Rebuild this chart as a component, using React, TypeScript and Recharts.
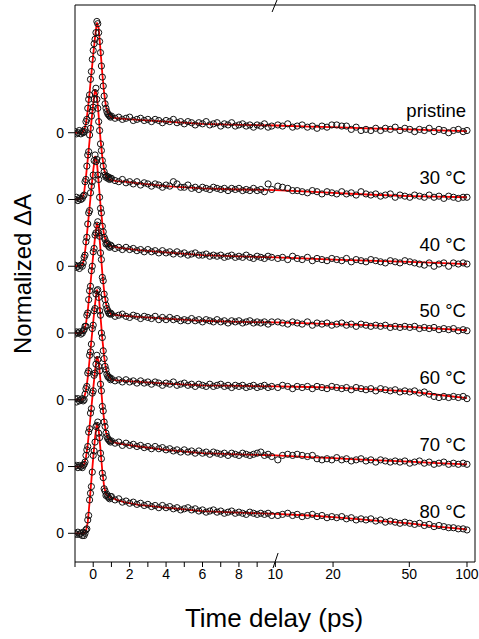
import React from 'react';
import { ComposedChart, Line, Scatter, XAxis, YAxis, ReferenceLine, ReferenceDot } from 'recharts';

// time delays (ps) of measured points
const DATA_T = [
  -1.0, -0.92, -0.84, -0.76, -0.68, -0.6, -0.55,
  -0.5, -0.45, -0.4, -0.35, -0.3, -0.25, -0.2, -0.15, -0.1, -0.05,
  0, 0.05, 0.1, 0.15, 0.2, 0.25, 0.3, 0.35, 0.4, 0.45,
  0.5, 0.55, 0.6, 0.65, 0.7, 0.75, 0.8, 0.85, 0.9, 0.95,
  1.0, 1.2, 1.4, 1.6, 1.8, 2.0, 2.2, 2.4, 2.6, 2.8, 3.0, 3.2, 3.4, 3.6, 3.8,
  4.0, 4.2, 4.4, 4.6, 4.8, 5.0, 5.2, 5.4, 5.6, 5.8, 6.0, 6.2, 6.4, 6.6, 6.8,
  7.0, 7.2, 7.4, 7.6, 7.8, 8.0, 8.2, 8.4, 8.6, 8.8, 9.0, 9.2, 9.4, 9.6, 9.8,
  10.3, 10.9, 11.6, 12.3, 13.0, 13.8, 14.7, 15.6, 16.5, 17.5,
  18.6, 19.7, 20.9, 22.2, 23.5, 24.9, 26.4, 28.0, 29.7, 31.5,
  33.4, 35.4, 37.5, 39.8, 42.2, 44.7, 47.4, 50.3, 53.3, 56.5,
  59.9, 63.5, 67.3, 71.4, 75.7, 80.2, 85.0, 90.1, 95.5, 100,
];

// time delays (ps) of fit curve nodes
const FIT_T = [-1, -0.6, -0.5, -0.4, -0.3, -0.2, -0.1, 0, 0.1, 0.2, 0.3, 0.4, 0.5, 0.6, 0.7, 0.8, 1.0, 1.3, 1.7, 2.5, 4, 6, 8, 10, 15, 20, 30, 50, 70, 100];

const DATA_PRISTINE = [
  0.01, -0.01, 0.0, 0.02, -0.01, 0.01, 0.0,
  0.01, 0.03, 0.1, 0.12, 0.22, 0.3, 0.34, 0.48, 0.55, 0.66,
  0.74, 0.8, 0.84, 0.9, 1.0, 0.98, 0.9, 0.82, 0.72, 0.6,
  0.5, 0.42, 0.33, 0.26, 0.22, 0.19, 0.17, 0.16, 0.15, 0.14,
  0.15, 0.13, 0.14, 0.12, 0.13, 0.14, 0.11, 0.12, 0.13, 0.11, 0.12, 0.1, 0.12, 0.11, 0.09,
  0.11, 0.1, 0.12, 0.09, 0.1, 0.08, 0.1, 0.09, 0.07, 0.09, 0.08, 0.1, 0.07, 0.08, 0.09,
  0.06, 0.08, 0.07, 0.09, 0.06, 0.07, 0.08, 0.06, 0.07, 0.05, 0.07, 0.06, 0.08, 0.05, 0.06,
  0.07, 0.06, 0.08, 0.05, 0.06, 0.07, 0.05, 0.06, 0.04, 0.06,
  0.05, 0.07, 0.07, 0.06, 0.06, 0.03, 0.05, 0.02, 0.03, 0.02,
  0.04, 0.02, 0.04, 0.03, 0.05, 0.02, 0.04, 0.03, 0.01, 0.03,
  0.02, 0.04, 0.01, 0.03, 0.02, 0.0, 0.02, 0.03, 0.01, 0.02,
];
const DATA_30 = [
  0.0, 0.02, -0.01, 0.01, 0.0, 0.01, 0.03,
  0.04, 0.16, 0.18, 0.3, 0.4, 0.43, 0.58, 0.64, 0.75, 0.8,
  0.83, 0.9, 0.96, 1.0, 0.9, 0.82, 0.7, 0.62, 0.5, 0.44,
  0.35, 0.3, 0.25, 0.22, 0.2, 0.21, 0.19, 0.2, 0.18, 0.19,
  0.19, 0.17, 0.16, 0.18, 0.15, 0.16, 0.14, 0.16, 0.13, 0.15, 0.14, 0.12, 0.14, 0.13, 0.11,
  0.13, 0.12, 0.16, 0.14, 0.11, 0.11, 0.13, 0.1, 0.11, 0.09, 0.11, 0.1, 0.09, 0.11, 0.1,
  0.09, 0.1, 0.08, 0.1, 0.09, 0.1, 0.08, 0.09, 0.08, 0.1, 0.08, 0.09, 0.07, 0.14, 0.09,
  0.12, 0.11, 0.1, 0.08, 0.08, 0.07, 0.06, 0.08, 0.07, 0.05,
  0.07, 0.06, 0.05, 0.07, 0.05, 0.06, 0.04, 0.07, 0.05, 0.04,
  0.05, 0.03, 0.04, 0.05, 0.02, 0.04, 0.03, 0.02, 0.04, 0.03,
  0.02, 0.04, 0.02, 0.03, 0.01, 0.03, 0.02, 0.01, 0.02, 0.02,
];
const DATA_40 = [
  0.01, -0.01, 0.0, -0.02, 0.01, 0.0, 0.03,
  0.08, 0.1, 0.22, 0.26, 0.38, 0.48, 0.5, 0.66, 0.72, 0.76,
  0.82, 0.95, 1.0, 0.94, 0.96, 0.82, 0.78, 0.62, 0.52, 0.48,
  0.36, 0.31, 0.26, 0.24, 0.2, 0.21, 0.2, 0.18, 0.17, 0.19,
  0.18, 0.16, 0.17, 0.15, 0.17, 0.15, 0.16, 0.14, 0.15, 0.13, 0.15, 0.13, 0.14, 0.12, 0.14,
  0.12, 0.13, 0.11, 0.13, 0.11, 0.12, 0.1, 0.11, 0.12, 0.1, 0.1, 0.11, 0.09, 0.1, 0.09,
  0.1, 0.08, 0.09, 0.1, 0.08, 0.09, 0.08, 0.1, 0.08, 0.07, 0.09, 0.08, 0.07, 0.09, 0.08,
  0.07, 0.08, 0.06, 0.09, 0.07, 0.06, 0.08, 0.05, 0.07, 0.06,
  0.05, 0.07, 0.06, 0.05, 0.07, 0.04, 0.06, 0.05, 0.04, 0.06,
  0.05, 0.04, 0.03, 0.05, 0.04, 0.03, 0.05, 0.04, 0.03, 0.02,
  0.01, 0.03, 0.0, 0.02, 0.03, 0.0, 0.03, 0.02, 0.03, 0.02,
];
const DATA_50 = [
  -0.01, 0.01, 0.0, 0.01, -0.01, 0.0, 0.02,
  0.03, 0.06, 0.06, 0.16, 0.18, 0.3, 0.38, 0.42, 0.56, 0.6,
  0.73, 0.76, 0.88, 0.9, 0.97, 1.0, 0.9, 0.87, 0.72, 0.66,
  0.5, 0.47, 0.35, 0.3, 0.25, 0.22, 0.2, 0.18, 0.17, 0.18,
  0.17, 0.15, 0.16, 0.17, 0.15, 0.14, 0.16, 0.15, 0.13, 0.15, 0.14, 0.13, 0.15, 0.12, 0.14,
  0.12, 0.14, 0.12, 0.13, 0.11, 0.12, 0.11, 0.13, 0.11, 0.12, 0.1, 0.12, 0.11, 0.1, 0.12,
  0.1, 0.11, 0.09, 0.11, 0.1, 0.11, 0.09, 0.1, 0.11, 0.09, 0.1, 0.09, 0.1, 0.08, 0.1,
  0.1, 0.09, 0.08, 0.1, 0.09, 0.08, 0.1, 0.07, 0.09, 0.08,
  0.09, 0.07, 0.08, 0.09, 0.07, 0.08, 0.06, 0.08, 0.07, 0.06,
  0.07, 0.06, 0.07, 0.05, 0.06, 0.05, 0.06, 0.05, 0.06, 0.04,
  0.05, 0.04, 0.05, 0.03, 0.04, 0.03, 0.04, 0.02, 0.03, 0.02,
];
const DATA_60 = [
  0.01, -0.02, 0.01, -0.01, 0.0, 0.01, -0.01,
  0.0, 0.05, 0.1, 0.12, 0.24, 0.26, 0.4, 0.43, 0.5, 0.64,
  0.67, 0.8, 0.82, 0.95, 0.98, 0.99, 0.92, 0.8, 0.76, 0.6,
  0.56, 0.44, 0.37, 0.3, 0.27, 0.23, 0.21, 0.2, 0.2, 0.18,
  0.19, 0.17, 0.18, 0.16, 0.18, 0.16, 0.17, 0.15, 0.17, 0.15, 0.16, 0.14, 0.16, 0.15, 0.13,
  0.15, 0.14, 0.16, 0.13, 0.14, 0.15, 0.13, 0.14, 0.12, 0.14, 0.13, 0.12, 0.14, 0.12, 0.13,
  0.14, 0.12, 0.13, 0.11, 0.13, 0.12, 0.13, 0.11, 0.12, 0.13, 0.11, 0.12, 0.13, 0.11, 0.12,
  0.11, 0.13, 0.12, 0.1, 0.12, 0.11, 0.12, 0.1, 0.12, 0.11,
  0.1, 0.12, 0.11, 0.1, 0.11, 0.09, 0.11, 0.1, 0.09, 0.1,
  0.08, 0.1, 0.09, 0.08, 0.09, 0.07, 0.08, 0.07, 0.08, 0.06,
  0.07, 0.05, 0.03, 0.02, 0.03, 0.02, 0.03, 0.02, 0.03, 0.01,
];
const DATA_70 = [
  0.0, 0.01, -0.01, 0.01, 0.0, -0.01, 0.01,
  0.02, 0.04, 0.1, 0.15, 0.18, 0.31, 0.34, 0.48, 0.52, 0.66,
  0.68, 0.82, 0.84, 0.92, 1.0, 0.96, 0.9, 0.86, 0.74, 0.68,
  0.54, 0.5, 0.4, 0.36, 0.3, 0.27, 0.25, 0.24, 0.23, 0.22,
  0.23, 0.21, 0.22, 0.19, 0.21, 0.19, 0.2, 0.18, 0.19, 0.17, 0.18, 0.16, 0.18, 0.16, 0.17,
  0.15, 0.16, 0.14, 0.15, 0.13, 0.15, 0.13, 0.14, 0.12, 0.14, 0.12, 0.13, 0.11, 0.13, 0.12,
  0.11, 0.12, 0.1, 0.12, 0.11, 0.1, 0.12, 0.11, 0.1, 0.11, 0.12, 0.13, 0.1, 0.11, 0.09,
  0.06, 0.1, 0.11, 0.1, 0.11, 0.1, 0.09, 0.1, 0.07, 0.06,
  0.07, 0.06, 0.08, 0.06, 0.07, 0.05, 0.06, 0.07, 0.05, 0.06,
  0.04, 0.06, 0.05, 0.04, 0.05, 0.04, 0.05, 0.03, 0.04, 0.05,
  0.03, 0.04, 0.02, 0.03, 0.04, 0.02, 0.03, 0.02, 0.03, 0.02,
];
const DATA_80 = [
  0.0, -0.01, 0.01, -0.01, 0.0, -0.02, 0.01,
  -0.02, 0.0, 0.03, 0.04, 0.12, 0.16, 0.3, 0.36, 0.42, 0.55,
  0.7, 0.74, 0.82, 0.96, 0.97, 1.0, 0.9, 0.86, 0.72, 0.67,
  0.54, 0.5, 0.4, 0.38, 0.34, 0.35, 0.33, 0.32, 0.31, 0.33,
  0.33, 0.3, 0.31, 0.28, 0.29, 0.27, 0.28, 0.26, 0.27, 0.25, 0.26, 0.24, 0.25, 0.23, 0.25,
  0.23, 0.24, 0.22, 0.23, 0.21, 0.22, 0.23, 0.21, 0.22, 0.2, 0.21, 0.19, 0.2, 0.21, 0.19,
  0.2, 0.18, 0.19, 0.2, 0.18, 0.19, 0.18, 0.17, 0.19, 0.18, 0.17, 0.18, 0.17, 0.18, 0.16,
  0.16, 0.17, 0.18, 0.16, 0.17, 0.15, 0.16, 0.17, 0.15, 0.16,
  0.14, 0.15, 0.14, 0.15, 0.13, 0.14, 0.12, 0.13, 0.12, 0.13,
  0.11, 0.12, 0.1, 0.11, 0.1, 0.09, 0.1, 0.09, 0.08, 0.09,
  0.07, 0.08, 0.06, 0.07, 0.06, 0.05, 0.05, 0.04, 0.04, 0.03,
];

const FIT_PRISTINE = [0, 0, 0.02, 0.08, 0.2, 0.36, 0.53, 0.7, 0.86, 0.99, 0.94, 0.74, 0.53, 0.355, 0.24, 0.18, 0.14, 0.13, 0.125, 0.115, 0.1, 0.08, 0.07, 0.065, 0.055, 0.05, 0.04, 0.03, 0.022, 0.015];
const FIT_30 = [0, 0.01, 0.06, 0.2, 0.36, 0.53, 0.7, 0.86, 0.99, 0.94, 0.75, 0.54, 0.38, 0.27, 0.21, 0.19, 0.175, 0.165, 0.16, 0.145, 0.12, 0.1, 0.09, 0.085, 0.07, 0.06, 0.045, 0.03, 0.025, 0.02];
const FIT_40 = [0, 0.01, 0.06, 0.2, 0.36, 0.53, 0.7, 0.86, 0.99, 0.94, 0.75, 0.55, 0.385, 0.28, 0.22, 0.195, 0.18, 0.17, 0.16, 0.145, 0.125, 0.1, 0.088, 0.08, 0.068, 0.06, 0.05, 0.04, 0.03, 0.02];
const FIT_50 = [0, 0, 0.02, 0.08, 0.2, 0.36, 0.53, 0.7, 0.86, 0.99, 0.94, 0.75, 0.54, 0.375, 0.265, 0.21, 0.165, 0.16, 0.155, 0.145, 0.13, 0.11, 0.1, 0.095, 0.087, 0.08, 0.07, 0.055, 0.04, 0.025];
const FIT_60 = [0, 0, 0.02, 0.08, 0.2, 0.36, 0.53, 0.7, 0.86, 0.99, 0.94, 0.75, 0.55, 0.385, 0.28, 0.22, 0.18, 0.175, 0.17, 0.16, 0.145, 0.13, 0.125, 0.12, 0.115, 0.11, 0.095, 0.075, 0.045, 0.015];
const FIT_70 = [0, 0, 0.02, 0.08, 0.2, 0.36, 0.53, 0.7, 0.86, 0.99, 0.945, 0.77, 0.57, 0.415, 0.31, 0.26, 0.225, 0.21, 0.2, 0.18, 0.15, 0.12, 0.11, 0.1, 0.085, 0.075, 0.06, 0.045, 0.03, 0.02];
const FIT_80 = [0, 0, 0, 0.02, 0.1, 0.28, 0.48, 0.68, 0.86, 0.99, 0.93, 0.75, 0.56, 0.42, 0.35, 0.335, 0.32, 0.3, 0.28, 0.255, 0.23, 0.2, 0.185, 0.175, 0.16, 0.145, 0.12, 0.09, 0.06, 0.035];

const LABELS = ['pristine', '30 °C', '40 °C', '50 °C', '60 °C', '70 °C', '80 °C'];
const OFFSETS = [3.6, 3.0, 2.4, 1.8, 1.2, 0.6, 0];
const DATA_SETS = [DATA_PRISTINE, DATA_30, DATA_40, DATA_50, DATA_60, DATA_70, DATA_80];
const FIT_SETS = [FIT_PRISTINE, FIT_30, FIT_40, FIT_50, FIT_60, FIT_70, FIT_80];

const X_TICK_PS = [-1, 0, 1, 2, 3, 4, 5, 6, 7, 8, 9, 10, 20, 50, 100];
const X_TICK_TEXT = ['', '0', '', '2', '', '4', '', '6', '', '8', '', '10', '20', '50', '100'];
const Y_TICK_TEXT = '0';

// broken axis: linear up to 10 ps, logarithmic beyond
const BREAK_PS = 10;
const LOG_DECADE = 10.52;
const toAxis = (t: number) => (t <= BREAK_PS ? t : BREAK_PS + LOG_DECADE * Math.log10(t / BREAK_PS));

const X_DOMAIN: [number, number] = [-1, 20.96];
const Y_DOMAIN: [number, number] = [-0.258, 4.748];

const FONT = '"Liberation Sans", Arial, Helvetica, sans-serif';
const RED = '#ff0000';

const series = LABELS.map((label, k) => ({
  label,
  offset: OFFSETS[k],
  points: DATA_T.map((t, i) => ({ u: toAxis(t), y: DATA_SETS[k][i] + OFFSETS[k] })).filter((p) => Number.isFinite(p.y)),
  fit: FIT_T.map((t, i) => ({ u: toAxis(t), y: FIT_SETS[k][i] + OFFSETS[k] })).filter((p) => Number.isFinite(p.y)),
}));

const OpenCircle = (p: any) => (
  <circle cx={p.cx} cy={p.cy} r={3.1} fill="none" stroke="#111111" strokeWidth={1} />
);

export default function App() {
  const yTicks = [...OFFSETS].sort((a, b) => a - b);
  const xTicks = X_TICK_PS.map(toAxis);
  return (
    <div style={{ position: 'absolute', left: 0, top: 0, width: 479, height: 639, background: '#fff' }}>
      <ComposedChart width={479} height={639} margin={{ top: 5, right: 4, bottom: 0, left: 0 }}>
        <XAxis
          dataKey="u"
          type="number"
          domain={X_DOMAIN}
          allowDataOverflow
          ticks={xTicks}
          interval={0}
          tickFormatter={(_v: number, i: number) => X_TICK_TEXT[i]}
          tickSize={5}
          tickMargin={2}
          height={77}
          axisLine={{ stroke: '#000', strokeWidth: 1 }}
          tickLine={{ stroke: '#000', strokeWidth: 1 }}
          tick={{ fill: '#000', fontSize: 14, fontFamily: FONT }}
          label={() => (
            <text x={274} y={627} textAnchor="middle" fontSize={26} fontFamily={FONT} fill="#000">
              Time delay (ps)
            </text>
          )}
        />
        <YAxis
          dataKey="y"
          type="number"
          domain={Y_DOMAIN}
          allowDataOverflow
          ticks={yTicks}
          interval={0}
          tickFormatter={() => Y_TICK_TEXT}
          tickSize={7}
          tickMargin={4}
          width={75}
          axisLine={{ stroke: '#000', strokeWidth: 1 }}
          tickLine={{ stroke: '#000', strokeWidth: 1 }}
          tick={{ fill: '#000', fontSize: 14, fontFamily: FONT }}
          label={() => (
            <text
              x={31}
              y={274}
              transform="rotate(-90 31 274)"
              textAnchor="middle"
              fontSize={24}
              fontFamily={FONT}
              fill="#000"
            >
              Normalized ΔA
            </text>
          )}
        />
        {series.map((s) => (
          <Scatter
            key={'pts-' + s.label}
            data={s.points}
            dataKey="y"
            shape={OpenCircle}
            isAnimationActive={false}
          />
        ))}
        {series.map((s) => (
          <Line
            key={'fit-' + s.label}
            data={s.fit}
            dataKey="y"
            type="linear"
            stroke={RED}
            strokeWidth={1.8}
            dot={false}
            activeDot={false}
            isAnimationActive={false}
          />
        ))}
        {series.map((s) => (
          <ReferenceDot
            key={'lbl-' + s.label}
            x={toAxis(100)}
            y={s.offset + 0.14}
            ifOverflow="visible"
            shape={(p: any) => (
              <text x={p.cx - 1} y={p.cy} textAnchor="end" fontSize={18.5} fontFamily={FONT} fill="#000">
                {s.label}
              </text>
            )}
          />
        ))}
        <ReferenceLine y={Y_DOMAIN[1]} ifOverflow="visible" stroke="#000" strokeWidth={1} />
        <ReferenceLine x={X_DOMAIN[1]} ifOverflow="visible" stroke="#000" strokeWidth={1} />
        <ReferenceLine
          ifOverflow="visible"
          segment={[{ x: 10.09, y: 4.793 }, { x: 9.82, y: 4.685 }]}
          stroke="#000"
          strokeWidth={1}
        />
        <ReferenceLine
          ifOverflow="visible"
          segment={[{ x: 10.15, y: -0.177 }, { x: 9.87, y: -0.312 }]}
          stroke="#000"
          strokeWidth={1}
        />
      </ComposedChart>
    </div>
  );
}
